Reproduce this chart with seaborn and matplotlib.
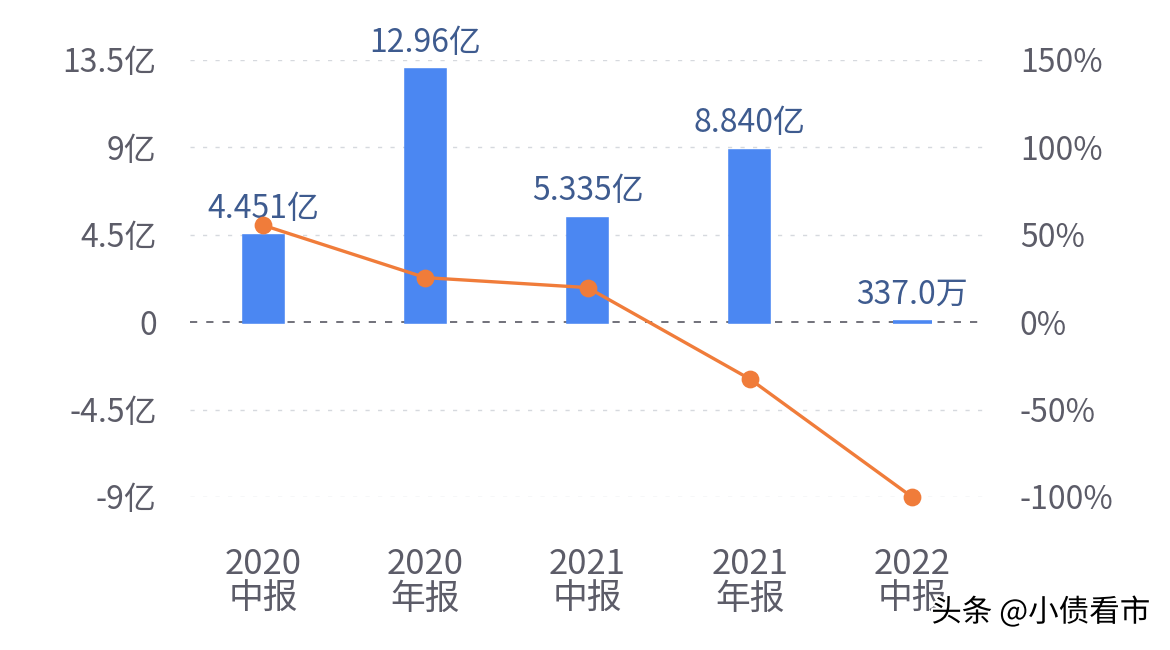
import numpy as np
import pandas as pd
import matplotlib
matplotlib.use("Agg")
import matplotlib.pyplot as plt
import matplotlib.patheffects as pe
import seaborn as sns

# ---- data ----
periods = ["2020\n中报", "2020\n年报", "2021\n中报", "2021\n年报", "2022\n中报"]
profit_yi = [4.451, 12.96, 5.335, 8.840, 0.0337]          # 亿
profit_labels = ["4.451亿", "12.96亿", "5.335亿", "8.840亿", "337.0万"]
growth_pct = [55.5, 25.5, 19.8, -32.5, -100.0]            # %
left_ticks = [-9, -4.5, 0, 4.5, 9, 13.5]
left_tick_labels = ["-9亿", "-4.5亿", "0", "4.5亿", "9亿", "13.5亿"]
right_ticks = [-100, -50, 0, 50, 100, 150]
right_tick_labels = ["-100%", "-50%", "0%", "50%", "100%", "150%"]

sns.set_theme(style="white")
plt.rcParams['font.family'] = ['Noto Sans CJK SC', 'DejaVu Sans']

BLUE = "#4b87f2"
ORANGE = "#f07c3a"
TICK = "#5c5c68"
LABEL = "#3e5b8f"

fig = plt.figure(figsize=(11.7, 6.5), dpi=100)
fig.patch.set_facecolor("white")
ax = fig.add_axes([0.1624, 0.2354, 0.842 - 0.1624, 0.9077 - 0.2354])
ax.set_facecolor("white")

df = pd.DataFrame({"period": periods, "profit": profit_yi})
sns.barplot(data=df, x="period", y="profit", color=BLUE, saturation=1,
            width=0.24, ax=ax, zorder=3, edgecolor=BLUE, linewidth=2.6)
ax.bar_label(ax.containers[0], labels=profit_labels, padding=8,
             fontsize=23, color=LABEL, fontweight="light")

ax.set_ylim(-9, 13.5)
ax.set_xlim(-0.45, 4.45)
ax.set_yticks(left_ticks)
ax.set_yticklabels(left_tick_labels)
ax.set_xlabel("")
ax.set_ylabel("")
for y in left_ticks:
    if y == 0:
        ax.axhline(0, color="#666670", lw=1.3, ls=(0, (4, 5)), zorder=2)
    else:
        ax.axhline(y, color="#d6d9de", lw=1.0, ls=(0, (3, 6)), zorder=1)
for s in ax.spines.values():
    s.set_visible(False)
ax.tick_params(axis="y", length=0, pad=24, labelsize=23, labelcolor=TICK)
ax.tick_params(axis="x", length=0, pad=36, labelsize=25, labelcolor=TICK)
for t in ax.get_xticklabels():
    t.set_linespacing(1.0)
    t.set_fontweight("light")
for t in ax.get_yticklabels():
    t.set_fontweight("light")

ax2 = ax.twinx()
sns.pointplot(x=list(range(len(periods))), y=growth_pct, native_scale=True,
              color=ORANGE, markers="o", markersize=11, linewidth=2.4,
              ax=ax2, zorder=5)
for ln in ax2.lines:
    ln.set_clip_on(False)
for c in ax2.collections:
    c.set_clip_on(False)
ax2.set_xlim(-0.45, 4.45)
ax2.set_ylim(-100, 150)
ax2.set_yticks(right_ticks)
ax2.set_yticklabels(right_tick_labels)
for s in ax2.spines.values():
    s.set_visible(False)
ax2.tick_params(axis="y", length=0, pad=25, labelsize=23, labelcolor=TICK)
for t in ax2.get_yticklabels():
    t.set_fontweight("light")
ax2.grid(False)

fig.text(0.983, 0.058, "头条 @小债看市", ha="right", va="center", fontsize=22,
         color="black",
         path_effects=[pe.withStroke(linewidth=3, foreground="white")])

fig.savefig("out.png", dpi=100, facecolor="white")
